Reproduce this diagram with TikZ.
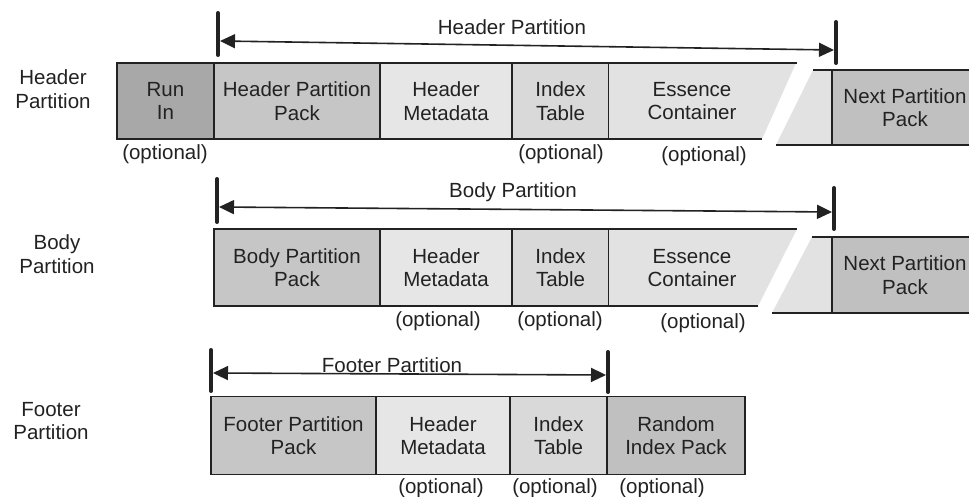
\documentclass[tikz,border=0pt]{standalone}
\usepackage{fontspec}
\setmainfont{Liberation Sans}
\usetikzlibrary{arrows.meta}
\definecolor{cRun}{HTML}{A8A8A8}
\definecolor{cPack}{HTML}{C6C6C6}
\definecolor{cMeta}{HTML}{E6E6E6}
\definecolor{cIdx}{HTML}{D9D9D9}
\definecolor{cEss}{HTML}{E2E2E2}
\definecolor{cNext}{HTML}{C0C0C0}
\definecolor{cInk}{HTML}{222222}
\begin{document}
\begin{tikzpicture}[x=1pt,y=-1pt,
  every node/.style={font=\fontsize{20.5}{23.5}\selectfont, text=cInk, inner sep=0pt, align=center},
  cell/.style={draw=cInk, line width=1.3pt},
  edge/.style={draw=cInk, line width=1.3pt},
  bar/.style={draw=cInk, line width=4pt, line cap=round},
  arr/.style={draw=cInk, line width=1.6pt, {Triangle[length=15pt,width=14pt]}-{Triangle[length=15pt,width=14pt]}},
  lbl/.style={}]
\clip (0,0) rectangle (969,497);
\fill[white] (0,0) rectangle (969,497);

% ---------- Header partition row ----------
\node[lbl] (lh) at (53,89) {Header\\Partition};
\node[cell, fill=cRun,  minimum width=97pt,  minimum height=76pt] (hrun) at (165.5,101) {Run\\In};
\node[cell, fill=cPack, minimum width=166pt, minimum height=76pt] (hpp)  at (297,101)   {Header Partition\\Pack};
\node[cell, fill=cMeta, minimum width=132pt, minimum height=76pt] (hmd)  at (446,101)   {Header\\Metadata};
\node[cell, fill=cIdx,  minimum width=97pt,  minimum height=76pt] (hit)  at (560.5,101) {Index\\Table};
\fill[cEss] (609,63) -- (796,63) -- (762,139) -- (609,139) -- cycle;
\fill[cEss] (813,70) -- (832,70) -- (832,145) -- (776,145) -- cycle;
\draw[edge] (609,63) -- (797,63);
\draw[edge] (609,139) -- (762,139);
\draw[edge] (813,70) -- (832,70);
\draw[edge] (776,145) -- (832,145);
\node (hec) at (692,101) {Essence\\Container};
\node[cell, fill=cNext, minimum width=146pt, minimum height=75pt] (hnp) at (905,107.5) {Next Partition\\Pack};
\node (ho1) at (165,154) {(optional)};
\node (ho2) at (561,154) {(optional)};
\node (ho3) at (704,156) {(optional)};
% arrow
\coordinate (hA) at (220,41);
\coordinate (hB) at (834,50);
\draw[bar] (218,13) -- (218,55);
\draw[bar] (836,22) -- (836,63);
\draw[arr] (hA) -- (hB);
\node (ht) at (512,27) {Header Partition};

% ---------- Body partition row ----------
\node[lbl] (lb) at (57,254) {Body\\Partition};
\node[cell, fill=cPack, minimum width=166pt, minimum height=77pt] (bpp) at (297,267.5)   {Body Partition\\Pack};
\node[cell, fill=cMeta, minimum width=132pt, minimum height=77pt] (bmd) at (446,267.5)   {Header\\Metadata};
\node[cell, fill=cIdx,  minimum width=97pt,  minimum height=77pt] (bit) at (560.5,267.5) {Index\\Table};
\fill[cEss] (609,229) -- (797,229) -- (758,306) -- (609,306) -- cycle;
\fill[cEss] (812,237) -- (832,237) -- (832,313) -- (772,313) -- cycle;
\draw[edge] (609,229) -- (797,229);
\draw[edge] (609,306) -- (758,306);
\draw[edge] (812,237) -- (832,237);
\draw[edge] (772,313) -- (832,313);
\node (bec) at (692,268) {Essence\\Container};
\node[cell, fill=cNext, minimum width=146pt, minimum height=76pt] (bnp) at (905,275) {Next Partition\\Pack};
\node (bo1) at (438,321) {(optional)};
\node (bo2) at (560,321) {(optional)};
\node (bo3) at (703,323) {(optional)};
\coordinate (bA) at (219,207);
\coordinate (bB) at (832,212);
\draw[bar] (217,179) -- (217,222);
\draw[bar] (834,188) -- (834,229);
\draw[arr] (bA) -- (bB);
\node (bt) at (513,192) {Body Partition};

% ---------- Footer partition row ----------
\node[lbl] (lf) at (51,421) {Footer\\Partition};
\node[cell, fill=cPack, minimum width=165pt, minimum height=78pt] (fpp) at (293.5,435.5) {Footer Partition\\Pack};
\node[cell, fill=cMeta, minimum width=134pt, minimum height=78pt] (fmd) at (443,435.5)   {Header\\Metadata};
\node[cell, fill=cIdx,  minimum width=97pt,  minimum height=78pt] (fit) at (558.5,435.5) {Index\\Table};
\node[cell, fill=cNext, minimum width=138pt, minimum height=78pt] (frp) at (676,435.5)   {Random\\Index Pack};
\node (fo1) at (441,488) {(optional)};
\node (fo2) at (555,488) {(optional)};
\node (fo3) at (662,488) {(optional)};
\coordinate (fA) at (213,373);
\coordinate (fB) at (606,375);
\draw[bar] (211,350) -- (211,391);
\draw[bar] (608,352) -- (608,392);
\draw[arr] (fA) -- (fB);
\node (ft) at (392,365) {Footer Partition};
\end{tikzpicture}
\end{document}
